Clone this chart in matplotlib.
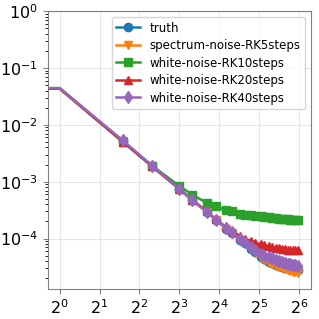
import numpy as np
import matplotlib
matplotlib.use('Agg')
import matplotlib.pyplot as plt
from matplotlib.ticker import LogLocator, NullLocator

# wavenumbers (k=0 gets clipped on the log axis)
k = [0, 1, 3, 5, 8, 10, 13, 15, 18, 20, 23, 25, 28, 30, 33, 35, 38, 40,
     43, 45, 48, 50, 53, 55, 58, 60, 63]

truth = [0.044, 0.044, 5.1e-3, 1.85e-3, 7.4e-4, 4.7e-4, 2.9e-4, 2.15e-4, 1.5e-4,
         1.25e-4, 9.5e-5, 8.3e-5, 6.6e-5, 5.8e-5, 4.7e-5, 4.35e-5, 3.95e-5, 3.75e-5,
         3.5e-5, 3.35e-5, 3.2e-5, 3.1e-5, 3.0e-5, 2.95e-5, 2.88e-5, 2.85e-5, 2.8e-5]
spec_rk5 = [0.044, 0.044, 5.1e-3, 1.85e-3, 7.4e-4, 4.7e-4, 2.9e-4, 2.15e-4, 1.5e-4,
            1.25e-4, 9.5e-5, 8.3e-5, 6.5e-5, 5.6e-5, 4.6e-5, 4.2e-5, 3.8e-5, 3.6e-5,
            3.35e-5, 3.2e-5, 3.0e-5, 2.9e-5, 2.8e-5, 2.7e-5, 2.6e-5, 2.55e-5, 2.45e-5]
white_rk10 = [0.044, 0.044, 5.0e-3, 1.9e-3, 8.4e-4, 5.9e-4, 4.2e-4, 3.7e-4, 3.15e-4,
              3.0e-4, 2.75e-4, 2.65e-4, 2.55e-4, 2.5e-4, 2.45e-4, 2.4e-4, 2.35e-4, 2.3e-4,
              2.28e-4, 2.25e-4, 2.22e-4, 2.2e-4, 2.17e-4, 2.15e-4, 2.13e-4, 2.12e-4, 2.1e-4]
white_rk20 = [0.043, 0.043, 5.0e-3, 1.85e-3, 7.5e-4, 4.8e-4, 3.0e-4, 2.2e-4, 1.6e-4,
              1.35e-4, 1.1e-4, 1.0e-4, 9.0e-5, 8.5e-5, 7.9e-5, 7.6e-5, 7.3e-5, 7.1e-5,
              6.9e-5, 6.8e-5, 6.6e-5, 6.5e-5, 6.4e-5, 6.35e-5, 6.3e-5, 6.25e-5, 6.2e-5]
white_rk40 = [0.044, 0.044, 5.3e-3, 1.9e-3, 7.4e-4, 4.8e-4, 2.95e-4, 2.16e-4, 1.55e-4,
              1.28e-4, 9.8e-5, 8.6e-5, 7.0e-5, 6.3e-5, 5.3e-5, 5.0e-5, 4.7e-5, 4.5e-5,
              4.2e-5, 4.05e-5, 3.9e-5, 3.8e-5, 3.65e-5, 3.55e-5, 3.45e-5, 3.4e-5, 3.35e-5]

series = [
    ('truth', truth, 'o'),
    ('spectrum-noise-RK5steps', spec_rk5, 'v'),
    ('white-noise-RK10steps', white_rk10, 's'),
    ('white-noise-RK20steps', white_rk20, '^'),
    ('white-noise-RK40steps', white_rk40, 'd'),
]

fig = plt.figure(figsize=(3.19, 3.19), dpi=100)
ax = fig.add_axes([0.1495, 0.094, 0.8255, 0.8715])

marks = list(range(2, len(k)))
for name, vals, m in series:
    ax.plot(k, vals, marker=m, markersize=6, lw=1.8, markevery=marks, label=name)

ax.set_xscale('log', base=2, nonpositive='clip')
ax.set_yscale('log')
ax.set_xlim(2 ** -0.3, 2 ** 6.3)
ax.set_ylim(1.3e-5, 1.0)
ax.xaxis.set_major_locator(LogLocator(base=2, numticks=20))
ax.xaxis.set_minor_locator(NullLocator())
ax.grid(True, color='#e5e5e5', lw=0.8)
for s in ax.spines.values():
    s.set_color('#808080')
ax.tick_params(labelsize=11.5, color='#808080')
ax.legend(loc='upper right', fontsize=8.5, labelspacing=0.38, edgecolor='#cccccc')

fig.savefig('out.png', dpi=100)
